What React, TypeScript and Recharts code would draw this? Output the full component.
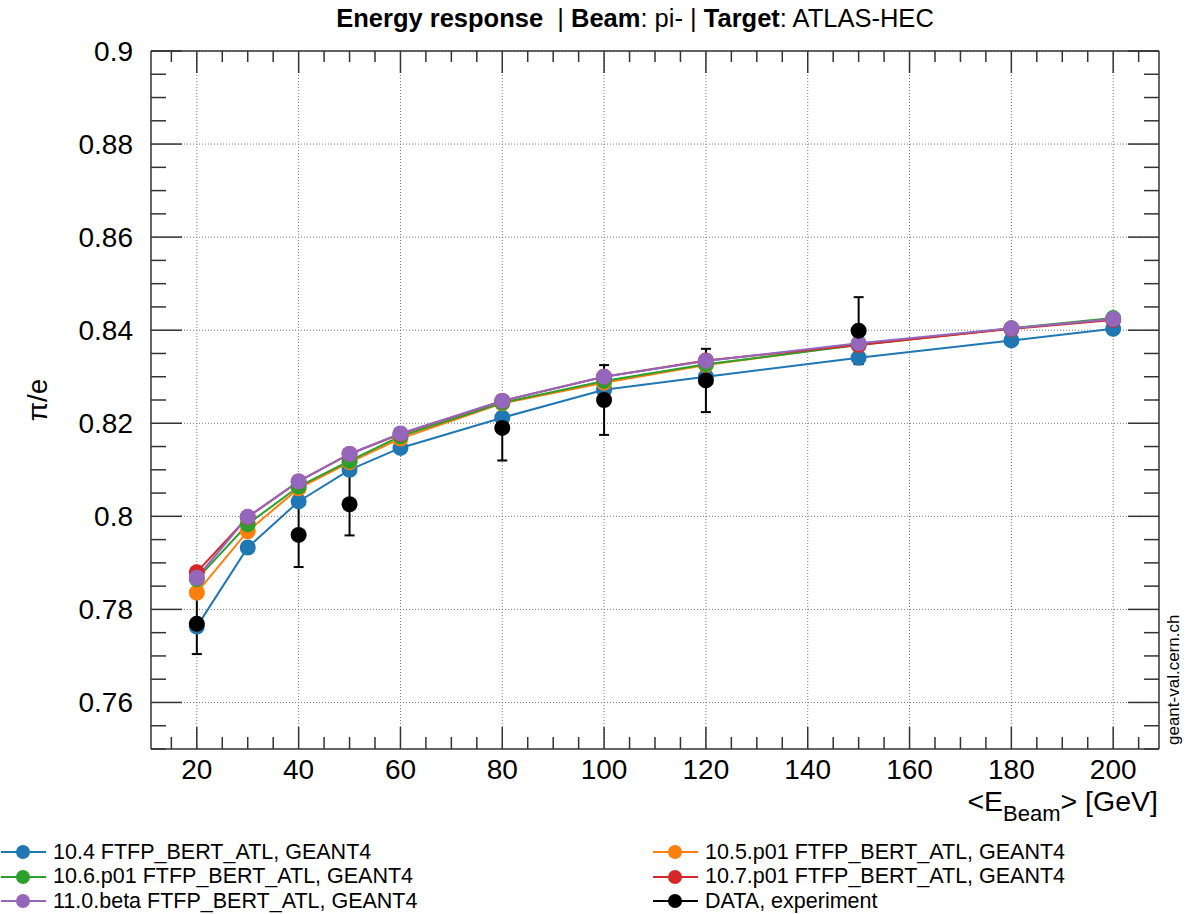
import React from "react";
import {
  ComposedChart,
  Line,
  XAxis,
  YAxis,
  CartesianGrid,
  ErrorBar,
} from "recharts";

// beam energies (GeV) for the simulated points
const energies = [20, 30, 40, 50, 60, 80, 100, 120, 150, 180, 200];

// pi/e response per Geant4 version
const g4_104 = [0.7763, 0.7933, 0.8032, 0.81, 0.8147, 0.8212, 0.8272, 0.83, 0.8341, 0.8378, 0.8403];
const g4_105 = [0.7836, 0.7968, 0.806, 0.8116, 0.8167, 0.8243, 0.8287, 0.8325, 0.837, 0.8403, 0.8424];
const g4_106 = [0.7865, 0.7983, 0.8064, 0.8119, 0.8172, 0.8244, 0.8291, 0.8327, 0.8368, 0.8404, 0.8426];
const g4_107 = [0.788, 0.7998, 0.8075, 0.8134, 0.8177, 0.8248, 0.83, 0.8335, 0.8368, 0.8403, 0.8422];
const g4_110 = [0.7868, 0.7999, 0.8075, 0.8134, 0.8178, 0.8248, 0.83, 0.8334, 0.8372, 0.8404, 0.8424];

// test-beam measurement
const dataEnergies = [20, 40, 50, 80, 100, 120, 150];
const dataValues = [0.7769, 0.796, 0.8026, 0.819, 0.825, 0.8292, 0.8399];
const dataErrors = [0.0065, 0.0069, 0.0067, 0.007, 0.0075, 0.0068, 0.0072];

// axis ticks
const xMajor = [20, 40, 60, 80, 100, 120, 140, 160, 180, 200];
const yMajor = [0.76, 0.78, 0.8, 0.82, 0.84, 0.86, 0.88, 0.9];

const series = [
  { key: "g104", label: "10.4 FTFP_BERT_ATL, GEANT4", color: "#1f77b4", values: g4_104 },
  { key: "g105", label: "10.5.p01 FTFP_BERT_ATL, GEANT4", color: "#ff7f0e", values: g4_105 },
  { key: "g106", label: "10.6.p01 FTFP_BERT_ATL, GEANT4", color: "#2ca02c", values: g4_106 },
  { key: "g107", label: "10.7.p01 FTFP_BERT_ATL, GEANT4", color: "#d62728", values: g4_107 },
  { key: "g110", label: "11.0.beta FTFP_BERT_ATL, GEANT4", color: "#9467bd", values: g4_110 },
];

const simRows = energies.map((e, i) => {
  const row: Record<string, number> = { e };
  series.forEach((s) => (row[s.key] = s.values[i]));
  return row;
});

const dataRows = dataEnergies.map((e, i) => ({ e, v: dataValues[i], err: dataErrors[i] }));

// minor ticks: 4 subdivisions of each major step
const xTicks: number[] = [];
for (let i = 0; i <= 38; i++) xTicks.push(15 + i * 5);
const yTicks: number[] = [];
for (let i = 0; i <= 30; i++) yTicks.push(Number((0.75 + i * 0.005).toFixed(3)));

const isMajor = (v: number, majors: number[]) => majors.some((m) => Math.abs(m - v) < 1e-6);

const FONT = "'Liberation Sans', Arial, Helvetica, sans-serif";
const TICK = "#333";

const LeftTick = (props: any) => {
  const { x, y, payload } = props;
  const major = isMajor(payload.value, yMajor);
  return (
    <g>
      <line x1={x} x2={x + (major ? 31 : 15)} y1={y} y2={y} stroke={TICK} strokeWidth={1.5} />
      {major && (
        <text x={x - 18} y={y} textAnchor="end" dominantBaseline="central" fontSize={28} fontFamily={FONT} fill="#000">
          {String(payload.value)}
        </text>
      )}
    </g>
  );
};

const RightTick = (props: any) => {
  const { x, y, payload } = props;
  const major = isMajor(payload.value, yMajor);
  return <line x1={x} x2={x - (major ? 31 : 15)} y1={y} y2={y} stroke={TICK} strokeWidth={1.5} />;
};

const BottomTick = (props: any) => {
  const { x, y, payload } = props;
  const major = isMajor(payload.value, xMajor);
  return (
    <g>
      <line x1={x} x2={x} y1={y} y2={y - (major ? 22 : 12)} stroke={TICK} strokeWidth={1.5} />
      {major && (
        <text x={x} y={y + 30} textAnchor="middle" fontSize={28} fontFamily={FONT} fill="#000">
          {payload.value}
        </text>
      )}
    </g>
  );
};

const TopTick = (props: any) => {
  const { x, y, payload } = props;
  const major = isMajor(payload.value, xMajor);
  return <line x1={x} x2={x} y1={y} y2={y + (major ? 22 : 11)} stroke={TICK} strokeWidth={1.5} />;
};

const legendLeft = [series[0], series[2], series[4]];
const legendRight = [series[1], series[3], { key: "data", label: "DATA, experiment", color: "#000" }];

const LegendRow = ({ label, color }: { label: string; color: string }) => (
  <div style={{ display: "flex", alignItems: "center", height: 24.5 }}>
    <svg width={53} height={20} style={{ flex: "none" }}>
      <line x1={1} x2={46} y1={10} y2={10} stroke={color} strokeWidth={2} />
      <circle cx={23} cy={10} r={7} fill={color} />
    </svg>
    <span style={{ whiteSpace: "pre" }}>{label}</span>
  </div>
);

export default function App() {
  const axisLine = { stroke: "#333", strokeWidth: 1.5 };
  return (
    <div style={{ position: "absolute", left: 0, top: 0, width: 1199, height: 914, background: "#fff", fontFamily: FONT }}>
      <ComposedChart width={1199} height={914} data={simRows} margin={{ top: 0, right: 39, bottom: 115, left: 0 }}>
        <CartesianGrid
          horizontalValues={yMajor}
          verticalValues={xMajor}
          stroke="#777"
          strokeDasharray="1 2"
        />
        <XAxis
          dataKey="e"
          type="number"
          domain={[11, 209]}
          allowDataOverflow
          ticks={xTicks}
          interval={0}
          height={50}
          tickSize={0}
          tickMargin={0}
          tickLine={false}
          axisLine={axisLine}
          tick={BottomTick}
        />
        <XAxis
          xAxisId="top"
          orientation="top"
          dataKey="e"
          type="number"
          domain={[11, 209]}
          allowDataOverflow
          ticks={xTicks}
          interval={0}
          height={51}
          tickSize={0}
          tickMargin={0}
          tickLine={false}
          axisLine={axisLine}
          tick={TopTick}
        />
        <YAxis
          type="number"
          domain={[0.75, 0.9]}
          allowDataOverflow
          ticks={yTicks}
          interval={0}
          width={151}
          tickSize={0}
          tickMargin={0}
          tickLine={false}
          axisLine={axisLine}
          tick={LeftTick}
        />
        <YAxis
          yAxisId="r"
          orientation="right"
          type="number"
          domain={[0.75, 0.9]}
          allowDataOverflow
          ticks={yTicks}
          interval={0}
          width={1}
          tickSize={0}
          tickMargin={0}
          tickLine={false}
          axisLine={axisLine}
          tick={RightTick}
        />
        {series.map((s) => (
          <Line
            key={s.key}
            dataKey={s.key}
            stroke={s.color}
            strokeWidth={2}
            type="linear"
            dot={{ r: 8, fill: s.color, stroke: s.color, strokeWidth: 0 }}
            activeDot={false}
            isAnimationActive={false}
          />
        ))}
        <Line
          data={dataRows}
          dataKey="v"
          stroke="none"
          dot={{ r: 8, fill: "#000", stroke: "#000", strokeWidth: 0 }}
          activeDot={false}
          isAnimationActive={false}
        >
          <ErrorBar dataKey="err" direction="y" width={5} stroke="#000" strokeWidth={2} />
        </Line>
      </ComposedChart>

      <svg width={1199} height={914} style={{ position: "absolute", left: 0, top: 0, pointerEvents: "none" }}>
        <text x={635} y={27} textAnchor="middle" fontSize={25.5} fontFamily={FONT} style={{ whiteSpace: "pre" }}>
          <tspan fontWeight="bold">Energy response</tspan>
          <tspan>{"  | "}</tspan>
          <tspan fontWeight="bold">Beam</tspan>
          <tspan>{": pi- | "}</tspan>
          <tspan fontWeight="bold">Target</tspan>
          <tspan>: ATLAS-HEC</tspan>
        </text>
        <text x={47} y={400} textAnchor="middle" fontSize={28} fontFamily={FONT} transform="rotate(-90, 47, 400)">
          π/e
        </text>
        <text x={1158} y={811} textAnchor="end" fontSize={28.5} fontFamily={FONT}>
          <tspan>{"<E"}</tspan>
          <tspan fontSize={22} dy={10}>Beam</tspan>
          <tspan dy={-10}>{"> [GeV]"}</tspan>
        </text>
        <text x={1179} y={745} fontSize={17} fontFamily={FONT} transform="rotate(-90, 1179, 745)">
          geant-val.cern.ch
        </text>
      </svg>

      <div style={{ position: "absolute", left: 0, top: 840, fontSize: 21.5, color: "#000" }}>
        {legendLeft.map((s) => (
          <LegendRow key={s.key} label={s.label} color={s.color} />
        ))}
      </div>
      <div style={{ position: "absolute", left: 652, top: 840, fontSize: 21.5, color: "#000" }}>
        {legendRight.map((s) => (
          <LegendRow key={s.key} label={s.label} color={s.color} />
        ))}
      </div>
    </div>
  );
}
